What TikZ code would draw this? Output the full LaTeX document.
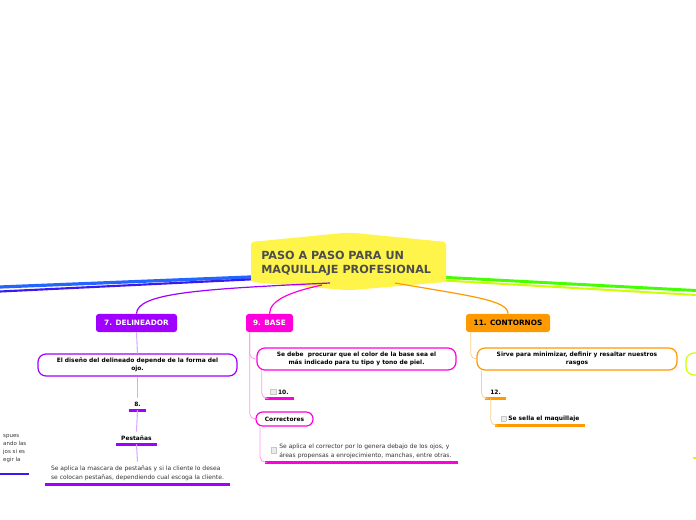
\documentclass[tikz,border=0pt]{standalone}
\usepackage{fontspec}
\setmainfont{DejaVu Sans}
\definecolor{cyel}{HTML}{FFF54A}
\definecolor{ctitle}{HTML}{4D4D4D}
\definecolor{cblueA}{HTML}{2266FF}
\definecolor{cblueB}{HTML}{3A1AF0}
\definecolor{cpur}{HTML}{A000FF}
\definecolor{cmag}{HTML}{FF00DC}
\definecolor{cora}{HTML}{FF9900}
\definecolor{cgreen}{HTML}{44FF00}
\definecolor{cyg}{HTML}{CCFF00}
\definecolor{lpur}{HTML}{D9AAFF}
\definecolor{lmag}{HTML}{FF99EE}
\definecolor{lora}{HTML}{FFD08A}
\definecolor{ctext}{HTML}{333333}
\newcommand{\chk}{{\setlength\fboxrule{0.3pt}\setlength\fboxsep{0pt}\fcolorbox{gray!45}{gray!15}{\rule{0pt}{3.6pt}\rule{3.6pt}{0pt}}}}
\tikzset{
  catbox/.style={fill=#1, rounded corners=2pt, inner sep=0pt, minimum height=13.5pt, font=\fontsize{5.5}{6.5}\selectfont\bfseries},
  subbox/.style={draw=#1, line width=0.9pt, fill=white, rounded corners=6pt, inner sep=0pt, minimum height=16.5pt, align=center, font=\fontsize{4.45}{6.3}\selectfont\bfseries},
  lbl/.style={inner sep=0pt, minimum height=9pt, font=\fontsize{4.45}{6.3}\selectfont\bfseries},
  note/.style={inner sep=0pt, align=left, text=ctext, font=\fontsize{4.5}{6.7}\selectfont},
  bar/.style={line width=2pt, #1},
  thin/.style={line width=0.8pt, #1},
  lnk/.style={line width=0.6pt, rounded corners=4pt, #1}
}
\begin{document}
\begin{tikzpicture}[x=0.75pt,y=-0.75pt]
\useasboundingbox (0,0) rectangle (696,520);
% main branches (behind the central shape)
\coordinate (bl1) at (0,287);
\coordinate (bl2) at (0,291.5);
\coordinate (gr1) at (696,290.5);
\coordinate (gr2) at (696,295);
\draw[cblueA, line width=2.4pt] (300,275) -- (bl1);
\draw[cblueB, line width=1.6pt] (300,277) -- (bl2);
\draw[cgreen, line width=2.2pt] (400,275) -- (gr1);
\draw[cyg, line width=1.5pt] (400,278) -- (gr2);
% central shape
\fill[cyel, rounded corners=2pt] (251,242) -- (343,233) -- (355,233) -- (446,242) -- (446,282) -- (353,290) -- (345,290) -- (251,282) -- cycle;
\node[anchor=west, align=left, inner sep=0pt, text=ctitle, font=\fontsize{8.4}{10.5}\selectfont\bfseries] (title) at (261,263) {PASO A PASO PARA UN\\MAQUILLAJE PROFESIONAL};
\coordinate (cP) at (330,283);
\coordinate (cM) at (322,285);
\coordinate (cO) at (395,283);
% category nodes
\node[catbox=cpur, text=white, minimum width=60.75pt] (deli) at (136.5,323) {7. DELINEADOR};
\node[catbox=cmag, text=white, minimum width=35.25pt] (base) at (269.5,323) {9. BASE};
\node[catbox=cora, text=black, minimum width=63pt] (cont) at (508,323) {11. CONTORNOS};
\draw[cpur, line width=0.9pt] (cP) .. controls (200,289) and (137,293) .. (deli.north);
\draw[cmag, line width=0.9pt] (cM) .. controls (290,292) and (270,300) .. (base.north);
\draw[cora, line width=0.9pt] (cO) .. controls (470,296) and (508,300) .. (cont.north);
% right partial node
\node[draw=cyg, line width=0.9pt, rounded corners=6pt, minimum width=60pt, minimum height=16.5pt] (rpart) at (726,364) {};
\coordinate (ygA) at (693,458);
\coordinate (ygB) at (696,458);
\draw[cyg, line width=1.5pt] (ygA) -- (ygB);
% delineador subtree
\node[subbox=cpur, minimum width=149.25pt] (deliD) at (137.5,365) {El diseño del delineado depende de la forma del\\ojo.};
\node[lbl, minimum width=12.75pt] (n8) at (137.5,404) {8.};
\node[lbl, minimum width=30.75pt] (pest) at (136.5,438) {Pestañas};
\node[note, minimum width=138.75pt, minimum height=16.5pt] (masc) at (137.5,473) {Se aplica la mascara de pestañas y si la cliente lo desea\\se colocan pestañas, dependiendo cual escoga la cliente.};
\draw[bar=cpur] (n8.south west) -- (n8.south east);
\draw[bar=cpur] (pest.south west) -- (pest.south east);
\draw[bar=cpur] (masc.south west) -- (masc.south east);
\draw[thin=lpur] (deli.south) -- (deliD.north);
\draw[thin=lpur] (deliD.south) -- (n8.north);
\draw[thin=lpur] (n8.south) -- (pest.north);
\draw[thin=lpur] (pest.south) -- (masc.north);
% left partial note
\node[note, anchor=north west, minimum width=21.75pt, font=\fontsize{4.1}{6}\selectfont] (lnote) at (0,434.5) {spues\\ando las\\jos si es\\egir la};
\coordinate (lbA) at (0,474);
\coordinate (lbB) at (29,474);
\draw[bar=cblueB] (lbA) -- (lbB);
% base subtree
\node[subbox=cmag, minimum width=149.25pt] (baseD) at (356.5,359) {Se debe \ procurar que el color de la base sea el\\más indicado para tu tipo y tono de piel.};
\node[lbl, minimum width=21.75pt] (n10) at (279.5,392) {\chk\ 10.\hspace{5pt}};
\node[subbox=cmag, rounded corners=5pt, minimum width=42.75pt, minimum height=10.5pt] (corr) at (284.5,419) {Correctores};
\node[note, text width=144.75pt, minimum height=16.5pt] (corrT) at (361.5,451) {\hspace{4.5pt}\chk\hspace{2pt}\begin{tabular}{@{}l@{}}Se aplica el corrector por lo genera debajo de los ojos, y\\áreas propensas a enrojecimiento, manchas, entre otras.\end{tabular}};
\draw[bar=cmag] (n10.south west) -- (n10.south east);
\draw[bar=cmag] (corrT.south west) -- (corrT.south east);
\draw[lnk=lmag] ([xshift=3pt]base.south west) |- (baseD.west);
\draw[lnk=lmag] ([xshift=3pt]base.south west) |- (corr.west);
\draw[lnk=lmag] ([xshift=4pt]baseD.south west) |- (n10.south west);
\draw[lnk=lmag] ([xshift=3.5pt]corr.south west) |- (corrT.south west);
% contornos subtree
\node[subbox=cora, minimum width=150pt] (contD) at (577,359) {Sirve para minimizar, definir y resaltar nuestros\\rasgos};
\node[lbl, minimum width=15.75pt] (n12) at (495.5,392) {12.\hspace{3pt}};
\node[lbl, minimum width=67.5pt] (sella) at (540,419) {\chk\ Se sella el maquillaje\hspace{2pt}};
\draw[bar=cora] (n12.south west) -- (n12.south east);
\draw[bar=cora] (sella.south west) -- (sella.south east);
\draw[lnk=lora] ([xshift=3.75pt]cont.south west) |- (contD.west);
\draw[lnk=lora] ([xshift=3.75pt]contD.south west) |- (n12.south west);
\draw[lnk=lora] ([xshift=4.5pt]n12.south west) |- (sella.south west);
\end{tikzpicture}
\end{document}
